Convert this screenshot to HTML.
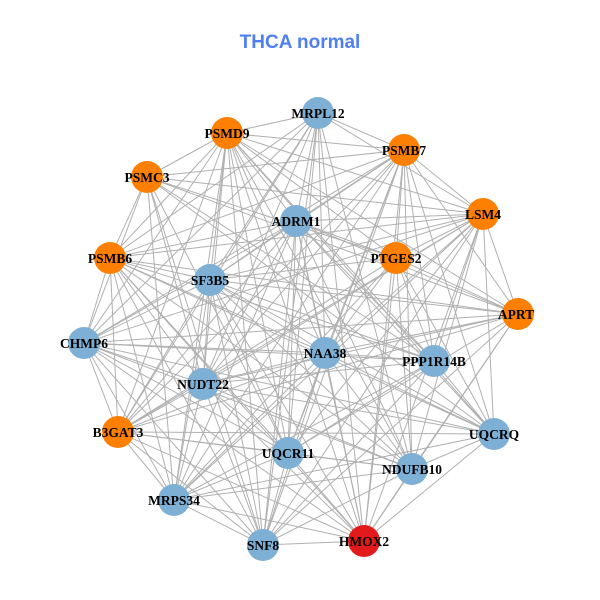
<!DOCTYPE html>
<html><head><meta charset="utf-8"><style>
html,body{margin:0;padding:0;background:#fff;}
svg{display:block}
.t{font-family:"Liberation Sans",sans-serif;font-weight:bold;font-size:19px;fill:#4f7ff0}
.l{font-family:"Liberation Serif",serif;font-weight:bold;font-size:13.5px;fill:#000}
</style></head><body>
<svg id="s" width="600" height="600" viewBox="0 0 600 600" xmlns="http://www.w3.org/2000/svg">
<rect width="600" height="600" fill="#fff"/>
<g id="edges" stroke="#b0b0b0" stroke-width="1"></g>
<g id="nodes"></g>
<text class="t" x="300" y="48" text-anchor="middle">THCA normal</text>
<g id="labels" text-anchor="middle">
<text class="l" x="318" y="118">MRPL12</text>
<text class="l" x="227" y="138">PSMD9</text>
<text class="l" x="404" y="155">PSMB7</text>
<text class="l" x="147" y="182">PSMC3</text>
<text class="l" x="483" y="219">LSM4</text>
<text class="l" x="296" y="226">ADRM1</text>
<text class="l" x="396" y="263">PTGES2</text>
<text class="l" x="110" y="263">PSMB6</text>
<text class="l" x="210" y="285">SF3B5</text>
<text class="l" x="516" y="319">APRT</text>
<text class="l" x="84" y="348">CHMP6</text>
<text class="l" x="325" y="358">NAA38</text>
<text class="l" x="434" y="366">PPP1R14B</text>
<text class="l" x="203" y="389">NUDT22</text>
<text class="l" x="118" y="437">B3GAT3</text>
<text class="l" x="494" y="439">UQCRQ</text>
<text class="l" x="288" y="458">UQCR11</text>
<text class="l" x="412" y="474">NDUFB10</text>
<text class="l" x="174" y="505">MRPS34</text>
<text class="l" x="263" y="550">SNF8</text>
<text class="l" x="364" y="546">HMOX2</text>
</g>
</svg>
<script>
var B="#7eb0d5",O="#ff7f00",R="#e31a1c";
var N=[[318,113,B],[227,133,O],[404,150,O],[147,177,O],[483,214,O],[296,221,B],[396,258,O],[110,258,O],[210,280,B],[518,314,O],[84,343,B],[325,353,B],[434,361,B],[203,384,B],[118,432,O],[494,434,B],[288,453,B],[412,469,B],[174,500,B],[263,545,B],[364,541,R]];
var ns="http://www.w3.org/2000/svg",e=document.getElementById("edges"),g=document.getElementById("nodes");
for(var i=0;i<N.length;i++)for(var j=i+1;j<N.length;j++){
 if((i*7+j*3)%9==0)continue;
 var l=document.createElementNS(ns,"line");
 l.setAttribute("x1",N[i][0]);l.setAttribute("y1",N[i][1]);l.setAttribute("x2",N[j][0]);l.setAttribute("y2",N[j][1]);e.appendChild(l);}
N.forEach(function(n){var c=document.createElementNS(ns,"circle");c.setAttribute("cx",n[0]);c.setAttribute("cy",n[1]);c.setAttribute("r",16);c.setAttribute("fill",n[2]);g.appendChild(c);});
</script>
</body></html>
